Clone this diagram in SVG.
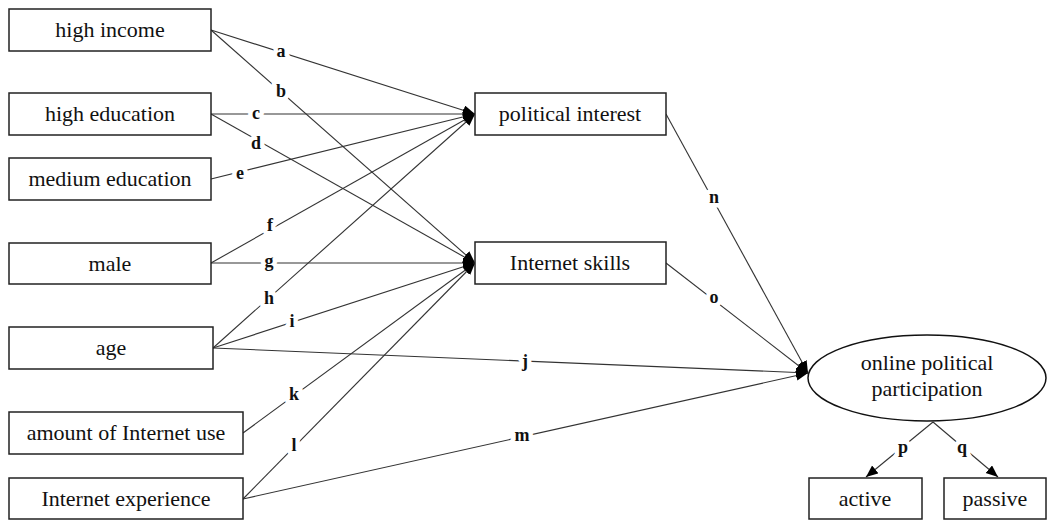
<svg xmlns="http://www.w3.org/2000/svg" width="1047" height="521" viewBox="0 0 1047 521">
<style>
.box{fill:#fff;stroke:#222;stroke-width:1.5}
.nt{font-size:22px;fill:#111;text-anchor:middle}
.ln{stroke:#333;stroke-width:1.1;fill:none}
.lb{font-size:18px;font-weight:bold;fill:#111;text-anchor:middle;dominant-baseline:central;stroke:#fff;stroke-width:9;paint-order:stroke;stroke-linejoin:round}
</style>
<defs>
<marker id="ah" markerUnits="userSpaceOnUse" markerWidth="14" markerHeight="12" refX="12" refY="5" orient="auto">
<path d="M0,0 L12,5 L0,10 z" fill="#000"/>
</marker>
</defs>
<rect width="1047" height="521" fill="#fff"/>
<g font-family="'Liberation Serif', 'Times New Roman', Times, 'DejaVu Serif', serif">
<g id="connectors">
<line class="ln" x1="211" y1="30" x2="475" y2="114" marker-end="url(#ah)"/>
<line class="ln" x1="211" y1="30" x2="475" y2="263" marker-end="url(#ah)"/>
<line class="ln" x1="211" y1="114" x2="475" y2="114" marker-end="url(#ah)"/>
<line class="ln" x1="211" y1="114" x2="475" y2="263" marker-end="url(#ah)"/>
<line class="ln" x1="211" y1="179" x2="475" y2="114" marker-end="url(#ah)"/>
<line class="ln" x1="211" y1="263" x2="475" y2="114" marker-end="url(#ah)"/>
<line class="ln" x1="211" y1="263" x2="475" y2="263" marker-end="url(#ah)"/>
<line class="ln" x1="213" y1="348" x2="475" y2="114" marker-end="url(#ah)"/>
<line class="ln" x1="213" y1="348" x2="475" y2="263" marker-end="url(#ah)"/>
<line class="ln" x1="213" y1="348" x2="808" y2="373" marker-end="url(#ah)"/>
<line class="ln" x1="243" y1="433" x2="475" y2="263" marker-end="url(#ah)"/>
<line class="ln" x1="243" y1="499" x2="475" y2="263" marker-end="url(#ah)"/>
<line class="ln" x1="243" y1="499" x2="808" y2="373" marker-end="url(#ah)"/>
<line class="ln" x1="666" y1="114" x2="808" y2="373" marker-end="url(#ah)"/>
<line class="ln" x1="666" y1="263" x2="808" y2="373" marker-end="url(#ah)"/>
<line class="ln" x1="933" y1="422" x2="866" y2="477" marker-end="url(#ah)"/>
<line class="ln" x1="933" y1="422" x2="998" y2="477" marker-end="url(#ah)"/>
<text class="lb" x="281" y="51">a</text>
<text class="lb" x="281" y="91">b</text>
<text class="lb" x="256" y="113">c</text>
<text class="lb" x="256" y="143">d</text>
<text class="lb" x="240" y="173">e</text>
<text class="lb" x="270" y="225">f</text>
<text class="lb" x="269" y="261">g</text>
<text class="lb" x="269" y="298">h</text>
<text class="lb" x="292" y="321">i</text>
<text class="lb" x="525" y="361">j</text>
<text class="lb" x="294" y="394">k</text>
<text class="lb" x="294" y="445">l</text>
<text class="lb" x="522" y="435">m</text>
<text class="lb" x="714" y="197">n</text>
<text class="lb" x="714" y="297">o</text>
<text class="lb" x="903" y="447">p</text>
<text class="lb" x="962" y="447">q</text>
</g>
<g id="high-income"><rect class="box" x="9" y="9" width="202" height="42"/><text class="nt" x="110" y="37">high income</text></g>
<g id="high-education"><rect class="box" x="9" y="93" width="202" height="42"/><text class="nt" x="110" y="121">high education</text></g>
<g id="medium-education"><rect class="box" x="9" y="158" width="202" height="42"/><text class="nt" x="110" y="186">medium education</text></g>
<g id="male"><rect class="box" x="9" y="243" width="202" height="41"/><text class="nt" x="110" y="271">male</text></g>
<g id="age"><rect class="box" x="9" y="327" width="204" height="42"/><text class="nt" x="111" y="355">age</text></g>
<g id="amount-internet-use"><rect class="box" x="9" y="412" width="234" height="42"/><text class="nt" x="126" y="440">amount of Internet use</text></g>
<g id="internet-experience"><rect class="box" x="9" y="478" width="234" height="41"/><text class="nt" x="126" y="506">Internet experience</text></g>
<g id="political-interest"><rect class="box" x="475" y="93" width="191" height="42"/><text class="nt" x="570" y="121">political interest</text></g>
<g id="internet-skills"><rect class="box" x="475" y="242" width="191" height="42"/><text class="nt" x="570" y="270">Internet skills</text></g>
<g id="online-political-participation"><ellipse cx="927" cy="378" rx="119" ry="43" fill="#fff" stroke="#111" stroke-width="1.5"/><text class="nt" x="927" y="370">online political</text><text class="nt" x="927" y="396">participation</text></g>
<g id="active"><rect class="box" x="809" y="478" width="113" height="41"/><text class="nt" x="865" y="506">active</text></g>
<g id="passive"><rect class="box" x="944" y="478" width="102" height="41"/><text class="nt" x="995" y="506">passive</text></g>
</g>
</svg>
